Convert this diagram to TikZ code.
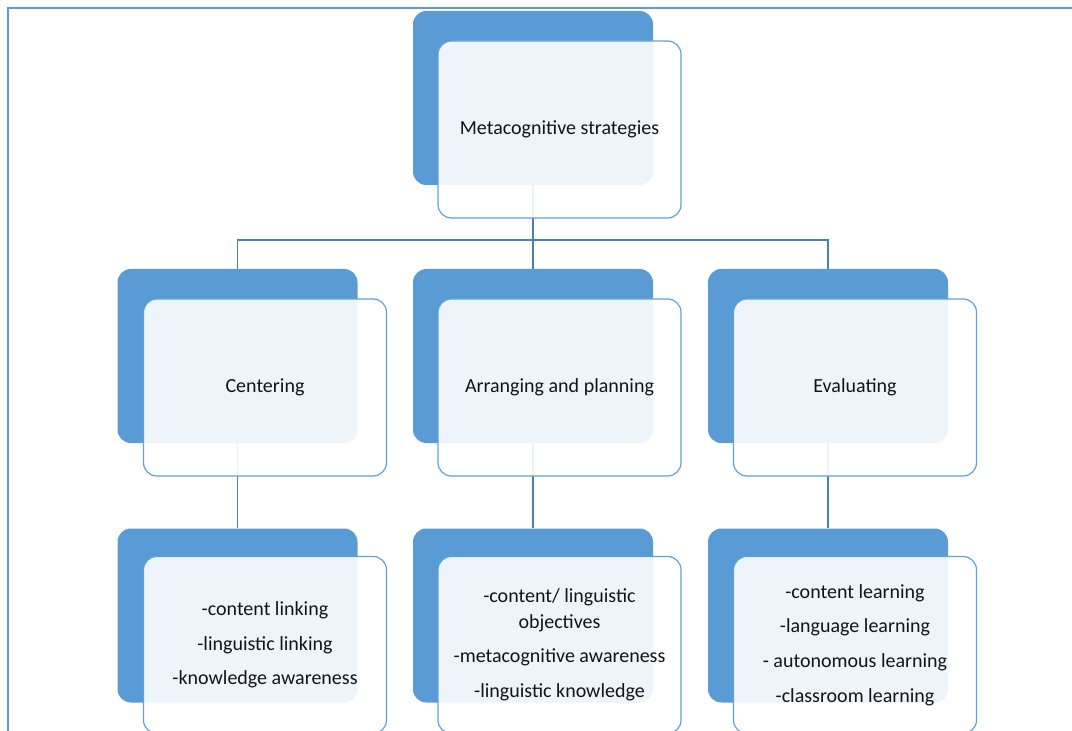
\documentclass[tikz,border=0pt]{standalone}
\usepackage{fontspec}
\setmainfont{Carlito}
\usepackage{xcolor}
\usepackage{tikz}
\usetikzlibrary{positioning,calc}
\definecolor{boxblue}{RGB}{91, 155, 213}
\definecolor{edgeblue}{RGB}{98, 160, 218}
\definecolor{linkblue}{RGB}{74, 126, 187}
\definecolor{textgray}{RGB}{20, 20, 20}
\tikzset{
    back box/.style={rectangle, rounded corners=10pt, fill=boxblue, minimum width=180pt, minimum height=130.5pt, inner sep=0pt},
    front box/.style={rectangle, rounded corners=10pt, draw=edgeblue, line width=0.9pt, fill=white, fill opacity=0.9, text opacity=1, minimum width=182.25pt, minimum height=132.75pt, inner sep=2pt, align=center, text=textgray, font=\fontsize{15}{19}\selectfont},
    link/.style={draw=linkblue, line width=1.1pt},
    frame line/.style={draw=boxblue, line width=1.5pt}
}

\begin{document}
\begin{tikzpicture}[x=0.75pt, y=-0.75pt]
    \useasboundingbox (0,0) rectangle (1072,731);

    % Page frame
    \draw[frame line] (8,731) -- (8,8) -- (1072,8);

    % Back boxes
    \node[back box] (metaback) at (533,98) {};
    \node[back box] (cenback) at (237.5,356) {};
    \node[back box] (arrback) at (533,356) {};
    \node[back box] (evaback) at (828,356) {};
    \node[back box] (cenlistback) at (237.5,615.5) {};
    \node[back box] (arrlistback) at (533,615.5) {};
    \node[back box] (evalistback) at (828,615.5) {};

    % Connectors
    \coordinate (bus) at (533,240);
    \draw[link] (metaback.south) -- (bus) -| (cenback.north);
    \draw[link] (bus) -- (arrback.north);
    \draw[link] (bus) -| (evaback.north);
    \draw[link] (cenback.south) -- (cenlistback.north);
    \draw[link] (arrback.south) -- (arrlistback.north);
    \draw[link] (evaback.south) -- (evalistback.north);

    % Front boxes with the texts
    \node[front box] (meta) at (559.5,129.5) {Metacognitive strategies};
    \node[front box] (cen) at (265,387.5) {Centering};
    \node[front box] (arr) at (559.5,387.5) {Arranging and planning};
    \node[front box] (eva) at (855,387.5) {Evaluating};
    \node[front box] (cenlist) at (265,645) {-content linking\\[7pt]-linguistic linking\\[7pt]-knowledge awareness};
    \node[front box] (arrlist) at (559.5,645) {-content/ linguistic\\objectives\\[7pt]-metacognitive awareness\\[7pt]-linguistic knowledge};
    \node[front box] (evalist) at (855,645) {-content learning\\[7pt]-language learning\\[7pt]- autonomous learning\\[7pt]-classroom learning};
\end{tikzpicture}
\end{document}
